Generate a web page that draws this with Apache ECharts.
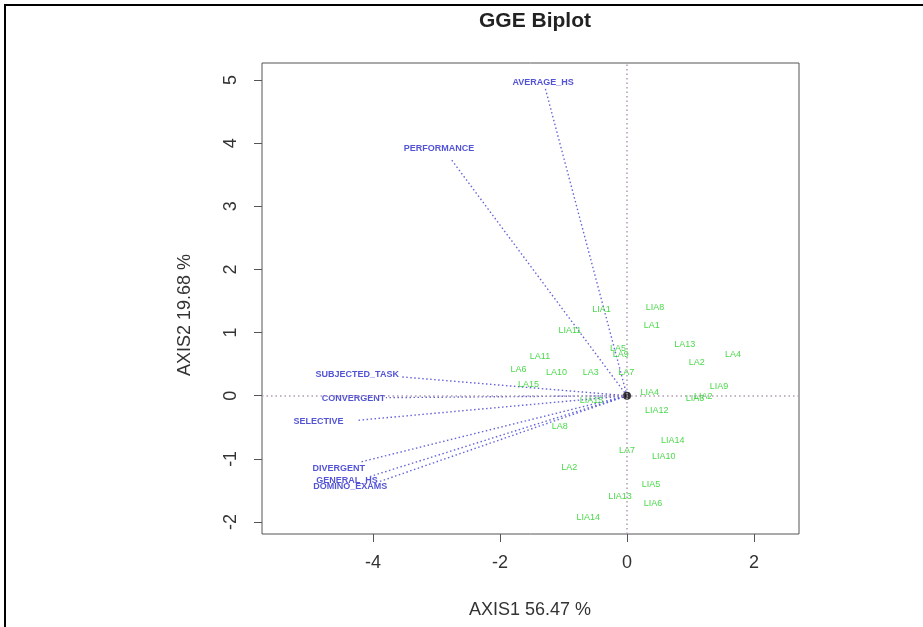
<!DOCTYPE html>
<html>
<head>
<meta charset="utf-8">
<script src="https://cdn.jsdelivr.net/npm/echarts@6/dist/echarts.min.js"></script>
<style>
html,body{margin:0;padding:0;background:#fff;}
#chart{width:923px;height:627px;}
</style>
</head>
<body>
<div id="chart"></div>
<script>
// Genotype labels (green) and their coordinates
const genotypes = ['LIA1','LIA8','LIA11','LA1','LA13','LA4','LA2','LA11','LA6','LA10','LA3','LA5','LA9','LA7','LA15','LIA4','LIA9','LIA3','LIA2','LIA15','LIA12','LA8','LIA14','LA7','LIA10','LA2','LIA5','LIA13','LIA6','LIA14'];
const genoX = [-0.40,0.44,-0.90,0.39,0.91,1.67,1.10,-1.37,-1.71,-1.11,-0.57,-0.14,-0.10,-0.01,-1.55,0.36,1.45,1.07,1.20,-0.56,0.47,-1.06,0.72,0.00,0.58,-0.91,0.38,-0.11,0.41,-0.61];
const genoY = [1.37,1.39,1.03,1.12,0.81,0.65,0.52,0.62,0.42,0.36,0.36,0.75,0.65,0.37,0.17,0.05,0.14,-0.04,-0.02,-0.07,-0.23,-0.49,-0.71,-0.87,-0.96,-1.13,-1.41,-1.60,-1.71,-1.93];

// Trait vectors (blue)
const traits = ['AVERAGE_HS','PERFORMANCE','SUBJECTED_TASK','CONVERGENT','SELECTIVE','DIVERGENT','GENERAL_HS','DOMINO_EXAMS'];
const traitEndX = [-1.29,-2.76,-3.57,-3.80,-4.25,-4.20,-4.05,-3.90];
const traitEndY = [4.88,3.73,0.30,-0.03,-0.39,-1.05,-1.28,-1.36];
const traitLabelX = [-1.32,-2.96,-4.25,-4.31,-4.86,-4.54,-4.41,-4.36];
const traitLabelY = [4.96,3.91,0.33,-0.04,-0.41,-1.15,-1.35,-1.44];

// Axes
const xTicks = [-4,-2,0,2];
const yTicks = [-2,-1,0,1,2,3,4,5];
const xRange = [-5.75, 2.71];
const yRange = [-2.19, 5.27];
const titleText = 'GGE Biplot';
const xName = 'AXIS1 56.47 %';
const yName = 'AXIS2 19.68 %';

const FONT = 'Liberation Sans, Arial, sans-serif';
const chart = echarts.init(document.getElementById('chart'), null, {renderer:'canvas'});

const option = {
  animation: false,
  backgroundColor: '#fff',
  title: {
    text: titleText, left: 530, top: 6, textAlign: 'center',
    textStyle: {fontSize: 21, fontWeight: 'bold', color: '#222', fontFamily: FONT}
  },
  grid: {left:262, top:63, width:537, height:471, show:true, borderColor:'#555', borderWidth:1, backgroundColor:'transparent'},
  xAxis: {
    type: 'value', min: xRange[0], max: xRange[1],
    splitLine: {show:false},
    axisLine: {show:false, onZero:false},
    axisTick: {show:true, length:8, customValues: xTicks, lineStyle:{color:'#555'}},
    axisLabel: {color:'#333', fontSize:18, fontFamily:FONT, margin:20, customValues: xTicks}
  },
  yAxis: {
    type: 'value', min: yRange[0], max: yRange[1],
    splitLine: {show:false},
    axisLine: {show:false, onZero:false},
    axisTick: {show:true, length:8, customValues: yTicks, lineStyle:{color:'#555'}},
    axisLabel: {color:'#333', fontSize:18, fontFamily:FONT, margin:22, rotate:90, customValues: yTicks}
  },
  graphic: [
    {type:'rect', shape:{x:5, y:5, width:1200, height:1200}, style:{fill:'none', stroke:'#000', lineWidth:2}, z:100},
    {type:'text', x:530, y:610, style:{text:xName, fontSize:18, fontFamily:FONT, fill:'#333', align:'center', verticalAlign:'middle'}},
    {type:'text', x:185, y:315, rotation:Math.PI/2, style:{text:yName, fontSize:18, fontFamily:FONT, fill:'#333', align:'center', verticalAlign:'middle'}}
  ],
  series: [
    {
      type: 'line', data: [], silent: true,
      markLine: {
        silent: true, symbol: 'none', label: {show:false},
        lineStyle: {color:'#b39cb3', type:[1.5,3], width:1.5},
        data: [{xAxis:0}, {yAxis:0}]
      }
    },
    {
      type: 'lines', coordinateSystem: 'cartesian2d', silent: true,
      lineStyle: {color:'#5555d5', type:[1.5,2.5], width:1.4, opacity:0.9},
      data: traits.map((t,i) => ({coords: [[0,0],[traitEndX[i], traitEndY[i]]]}))
    },
    {
      type: 'scatter', symbolSize: 0, silent: true,
      data: traits.map((t,i) => ({name:t, value:[traitLabelX[i], traitLabelY[i]]})),
      label: {show:true, position:'inside', formatter: p => p.name, color:'#2828cc', fontSize:9, fontFamily:FONT, fontWeight:'bold'},
      labelLayout: {hideOverlap:false}
    },
    {
      type: 'scatter', symbolSize: 0, silent: true,
      data: genotypes.map((g,i) => ({name:g, value:[genoX[i], genoY[i]]})),
      label: {show:true, position:'inside', formatter: p => p.name, color:'#1cd01c', fontSize:9, fontFamily:FONT},
      labelLayout: {hideOverlap:false}
    },
    {
      type: 'scatter', symbolSize: 8, silent: true,
      itemStyle: {color:'#000'},
      data: [[0,0]]
    }
  ]
};
chart.setOption(option);
</script>
</body>
</html>
